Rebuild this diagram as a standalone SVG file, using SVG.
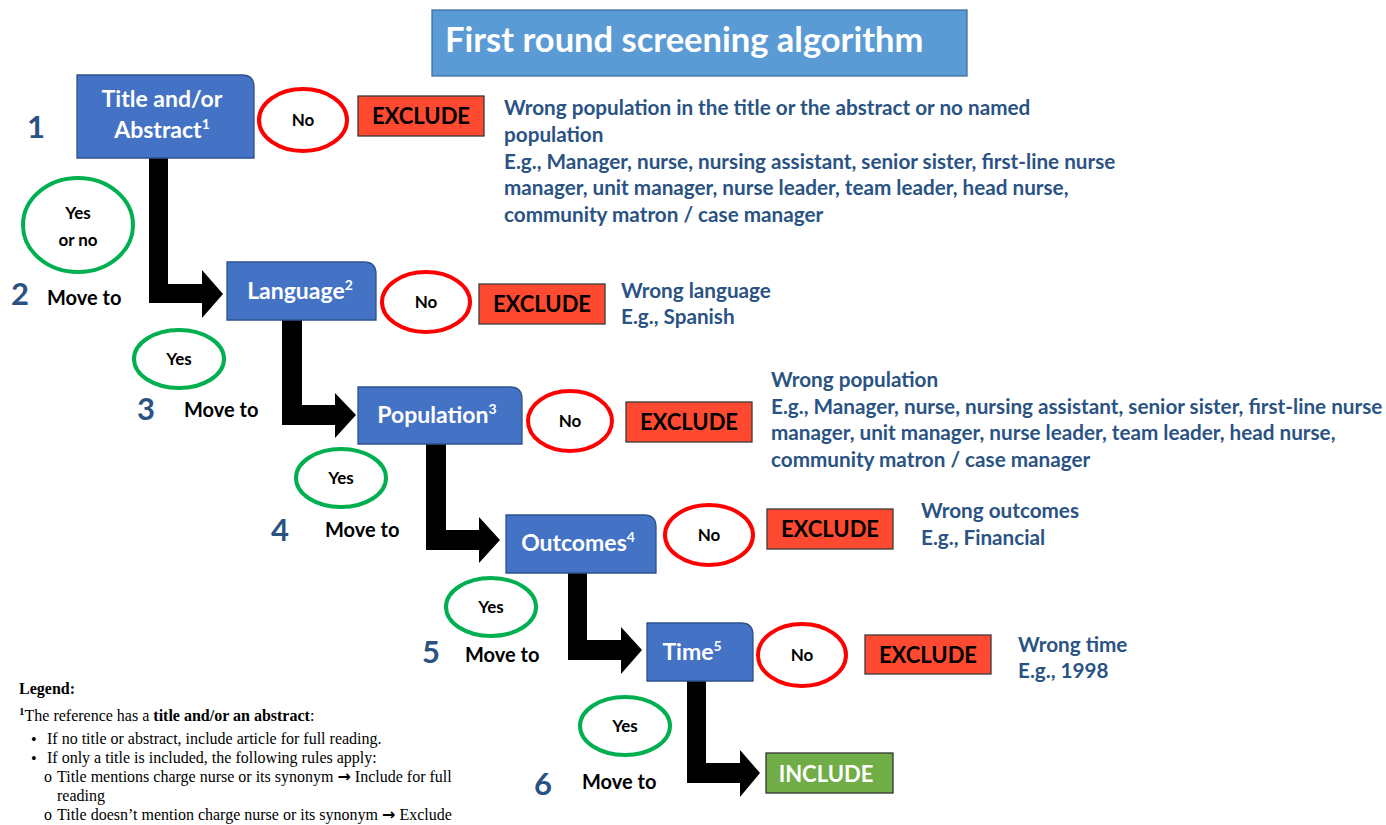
<svg xmlns="http://www.w3.org/2000/svg" width="1386" height="825" viewBox="0 0 1386 825">
<style>
text{font-family:Lato,"Liberation Sans",sans-serif;font-weight:bold}
.box{fill:#4472C4;stroke:#2F528F;stroke-width:1.3}
.bt{fill:#fff;font-size:23px;text-anchor:middle}
.sup{font-size:14px}
.no{fill:#fff;stroke:#FF0000;stroke-width:4}
.yes{fill:#fff;stroke:#00B050;stroke-width:4}
.et{fill:#000;font-size:17px;text-anchor:middle}
.ex{fill:#FF4A31;stroke:#3A3A3A;stroke-width:1.3}
.xt{fill:#000;font-size:22px;text-anchor:middle}
.desc{fill:#2A5384;font-size:20.7px}
.num{fill:#2A5384;font-size:31px}
.mv{fill:#000;font-size:20px}
.arr{fill:#000}
.lg{font-family:"Liberation Serif","Times New Roman",serif;font-weight:normal;font-size:16px;fill:#000}
.b{font-weight:bold}
</style>

<g id="title">
<rect x="432" y="10" width="535" height="66" fill="#5B9BD5" stroke="#41719C" stroke-width="1.3"/>
<text x="445" y="52" fill="#fff" font-size="34.5">First round screening algorithm</text>
</g>

<g id="connectors">
<polygon class="arr" points="149,158 168,158 168,284 202,284 202,270 223,294 202,318 202,303 149,303"/>
<polygon class="arr" points="282,320 302,320 302,405 335,405 335,393 356,415 335,438 335,425 282,425"/>
<polygon class="arr" points="426,444 446,444 446,530 479,530 479,517 500,540 479,563 479,550 426,550"/>
<polygon class="arr" points="568,573 587,573 587,640 621,640 621,627 642,650 621,674 621,660 568,660"/>
<polygon class="arr" points="687,681 706,681 706,763 740,763 740,750 760,773 740,797 740,783 687,783"/>
</g>

<g id="step1">
<path class="box" d="M77,75 H242 Q254,75 254,87 V158 H77 Z"/>
<text class="bt" x="162" y="107">Title and/or</text>
<text class="bt" x="162" y="138">Abstract<tspan class="sup" dy="-9">1</tspan></text>
<text class="num" x="27" y="138">1</text>
<ellipse class="no" cx="303" cy="120" rx="44" ry="31"/>
<text class="et" x="303" y="126">No</text>
<rect class="ex" x="358" y="96" width="126" height="40"/>
<text class="xt" x="421" y="124">EXCLUDE</text>
<text class="desc"><tspan x="504" y="115">Wrong population in the title or the abstract or no named</tspan><tspan x="504" y="142">population</tspan><tspan x="504" y="169">E.g., Manager, nurse, nursing assistant, senior sister, first-line nurse</tspan><tspan x="504" y="195">manager, unit manager, nurse leader, team leader, head nurse,</tspan><tspan x="504" y="222">community matron / case manager</tspan></text>
</g>

<g id="step2">
<ellipse class="yes" cx="78" cy="225" rx="55" ry="47"/>
<text class="et" x="78" y="219">Yes</text>
<text class="et" x="78" y="246">or no</text>
<text class="num" x="11" y="305">2</text>
<text class="mv" x="47" y="305">Move to</text>
<path class="box" d="M227,262 H364 Q376,262 376,274 V320 H227 Z"/>
<text class="bt" x="300" y="299">Language<tspan class="sup" dy="-9">2</tspan></text>
<ellipse class="no" cx="426" cy="302" rx="44" ry="30"/>
<text class="et" x="426" y="308">No</text>
<rect class="ex" x="479" y="284" width="126" height="40"/>
<text class="xt" x="542" y="312">EXCLUDE</text>
<text class="desc"><tspan x="621" y="298">Wrong language</tspan><tspan x="621" y="324">E.g., Spanish</tspan></text>
</g>

<g id="step3">
<ellipse class="yes" cx="179" cy="359" rx="45" ry="29"/>
<text class="et" x="179" y="365">Yes</text>
<text class="num" x="137" y="420">3</text>
<text class="mv" x="184" y="417">Move to</text>
<path class="box" d="M358,387 H510 Q522,387 522,399 V444 H358 Z"/>
<text class="bt" x="437" y="423">Population<tspan class="sup" dy="-9">3</tspan></text>
<ellipse class="no" cx="570" cy="421" rx="42" ry="30"/>
<text class="et" x="570" y="427">No</text>
<rect class="ex" x="626" y="402" width="126" height="40"/>
<text class="xt" x="689" y="430">EXCLUDE</text>
<text class="desc"><tspan x="771" y="387">Wrong population</tspan><tspan x="771" y="414">E.g., Manager, nurse, nursing assistant, senior sister, first-line nurse</tspan><tspan x="771" y="440">manager, unit manager, nurse leader, team leader, head nurse,</tspan><tspan x="771" y="467">community matron / case manager</tspan></text>
</g>

<g id="step4">
<ellipse class="yes" cx="341" cy="478" rx="45" ry="29"/>
<text class="et" x="341" y="484">Yes</text>
<text class="num" x="271" y="541">4</text>
<text class="mv" x="325" y="537">Move to</text>
<path class="box" d="M506,515 H644 Q656,515 656,527 V573 H506 Z"/>
<text class="bt" x="578" y="551">Outcomes<tspan class="sup" dy="-9">4</tspan></text>
<ellipse class="no" cx="709" cy="535" rx="44" ry="30"/>
<text class="et" x="709" y="541">No</text>
<rect class="ex" x="767" y="509" width="126" height="40"/>
<text class="xt" x="830" y="537">EXCLUDE</text>
<text class="desc"><tspan x="921" y="518">Wrong outcomes</tspan><tspan x="921" y="545">E.g., Financial</tspan></text>
</g>

<g id="step5">
<ellipse class="yes" cx="491" cy="607" rx="45" ry="29"/>
<text class="et" x="491" y="613">Yes</text>
<text class="num" x="422" y="663">5</text>
<text class="mv" x="465" y="662">Move to</text>
<path class="box" d="M647,623 H741 Q753,623 753,635 V681 H647 Z"/>
<text class="bt" x="692" y="660">Time<tspan class="sup" dy="-9">5</tspan></text>
<ellipse class="no" cx="802" cy="655" rx="44" ry="31"/>
<text class="et" x="802" y="661">No</text>
<rect class="ex" x="865" y="635" width="126" height="39"/>
<text class="xt" x="928" y="663">EXCLUDE</text>
<text class="desc"><tspan x="1018" y="652">Wrong time</tspan><tspan x="1018" y="678">E.g., 1998</tspan></text>
</g>

<g id="step6">
<ellipse class="yes" cx="625" cy="726" rx="45" ry="29"/>
<text class="et" x="625" y="732">Yes</text>
<text class="num" x="534" y="795">6</text>
<text class="mv" x="582" y="789">Move to</text>
<rect x="766" y="753" width="127" height="40" fill="#70AD47" stroke="#333" stroke-width="1.3"/>
<text x="826" y="782" fill="#fff" font-size="22" text-anchor="middle">INCLUDE</text>
</g>

<g id="legend">
<text class="lg b" x="19" y="694">Legend:</text>
<text class="lg" x="19" y="721"><tspan class="b" font-size="11" dy="-6">1</tspan><tspan dy="6">The reference has a </tspan><tspan class="b">title and/or an abstract</tspan>:</text>
<text class="lg" x="31" y="745" font-size="15">•</text>
<text class="lg" x="47" y="744">If no title or abstract, include article for full reading.</text>
<text class="lg" x="31" y="764" font-size="15">•</text>
<text class="lg" x="47" y="763">If only a title is included, the following rules apply:</text>
<text class="lg" x="44" y="782" font-size="13">o</text>
<text class="lg" x="57" y="782">Title mentions charge nurse or its synonym <tspan class="b" font-family="DejaVu Sans">→</tspan> Include for full</text>
<text class="lg" x="57" y="801">reading</text>
<text class="lg" x="44" y="820" font-size="13">o</text>
<text class="lg" x="57" y="820">Title doesn’t mention charge nurse or its synonym <tspan class="b" font-family="DejaVu Sans">→</tspan> Exclude</text>
</g>
</svg>
